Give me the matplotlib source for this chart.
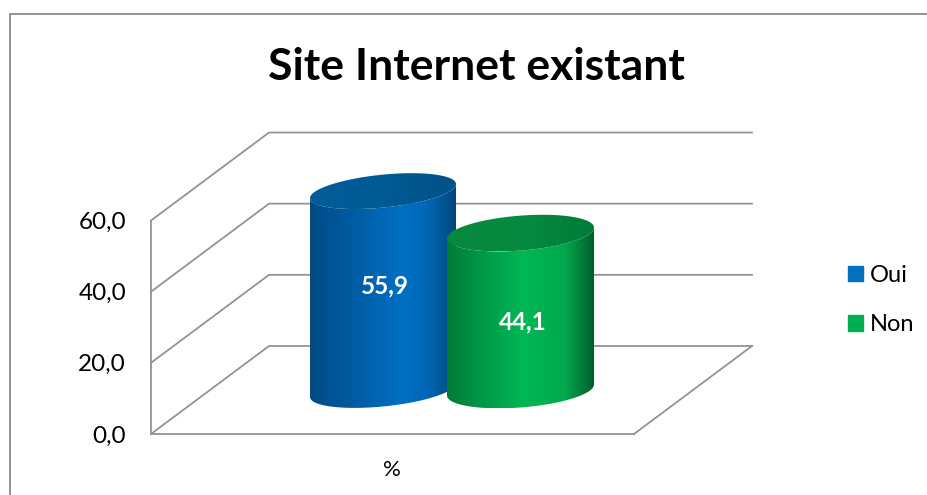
import numpy as np
import matplotlib
matplotlib.use("Agg")
import matplotlib.pyplot as plt
from matplotlib.colors import LinearSegmentedColormap
from matplotlib.patches import Patch, PathPatch
from matplotlib.path import Path

plt.rcParams["font.family"] = ["Lato", "DejaVu Sans"]

# data
series_names = ["Oui", "Non"]
series_values = [55.9, 44.1]
series_colors = ["#0070c0", "#00b050"]
y_ticks = [0, 20, 40, 60]
y_tick_labels = ["0,0", "20,0", "40,0", "60,0"]
category_labels = ["%"]
title = "Site Internet existant"

W, H = 928, 495
PX_PER_UNIT = 3.558   # pixels per percent on the value scale
ZERO_PX = 434         # pixel row of value 0 on the front wall
GRID = "#939393"

# layout of the fake 3D box, x in pixels, depth offset in pixels
WALL_X = 151
FLOOR_RIGHT = 634
DEPTH_X = 118
DEPTH_PX = 88

# cx, half width, half height of the ellipse, tilt (px), colour stops
CYLINDERS = [
    dict(cx=383, a=73, b=16.5, tilt=7, base_px=390, label_dx=2, label_dy=-5,
         side=["#004b85", "#00599e", "#0070c4", "#0068b5", "#00477c"],
         stops=[0, 0.25, 0.64, 0.8, 1],
         top=["#005c98", "#005a94", "#005286"]),
    dict(cx=520.5, a=73.5, b=17.5, tilt=5.5, base_px=390, label_dx=2, label_dy=10,
         side=["#007a38", "#009a48", "#00b854", "#00a94c", "#005f2c"],
         stops=[0, 0.25, 0.53, 0.8, 1],
         top=["#08883f", "#068a40", "#007c39"]),
]


def px_to_val(px):
    return (ZERO_PX - px) / PX_PER_UNIT


fig = plt.figure(figsize=(W / 100, H / 100), dpi=100)
ax = fig.add_axes([0, 0, 1, 1])
depth = DEPTH_PX / PX_PER_UNIT

# chart frame
frame_x = [10.5, 10.5, W]
frame_y = [px_to_val(H), px_to_val(13.5), px_to_val(13.5)]
ax.plot(frame_x, frame_y, color="#8a8a8a", lw=1.3, solid_capstyle="butt", zorder=1)

# back wall, side wall and floor
for v in y_ticks:
    ax.plot([WALL_X, WALL_X + DEPTH_X, 752], [v, v + depth, v + depth], color=GRID, lw=1.3, zorder=1)
ax.plot([FLOOR_RIGHT, FLOOR_RIGHT + DEPTH_X], [0, depth], color=GRID, lw=1.3, zorder=1)


def shaded(path, colors, stops, x0, x1, zorder):
    cmap = LinearSegmentedColormap.from_list("c", list(zip(stops, colors)))
    ylo, yhi = path.vertices[:, 1].min(), path.vertices[:, 1].max()
    im = ax.imshow(np.linspace(0, 1, 256)[None, :], cmap=cmap, aspect="auto",
                   extent=[x0, x1, ylo, yhi], zorder=zorder, interpolation="bilinear")
    im.set_clip_path(PathPatch(path, transform=ax.transData))


for i, (value, cyl) in enumerate(zip(series_values, CYLINDERS)):
    cx, a, b, tilt = cyl["cx"], cyl["a"], cyl["b"], cyl["tilt"]
    base = px_to_val(cyl["base_px"])
    t = np.linspace(0, 2 * np.pi, 200)
    ex = cx + a * np.cos(t)
    ey = (tilt * np.cos(t) + b * np.sin(t)) / PX_PER_UNIT

    # body: lower half of the base ellipse, then up to the top ellipse
    lower = t[t >= np.pi]
    lx = cx + a * np.cos(lower)
    ly = (tilt * np.cos(lower) + b * np.sin(lower)) / PX_PER_UNIT
    body_x = np.r_[lx, lx[::-1]]
    body_y = np.r_[base + ly, base + value + ly[::-1]]
    z = 3 + i
    shaded(Path(np.c_[body_x, body_y]), cyl["side"], cyl["stops"], cx - a, cx + a, z)
    shaded(Path(np.c_[ex, base + value + ey]), cyl["top"], [0, 0.5, 1], cx - a, cx + a, z + 0.5)

    ax.text(cx + cyl["label_dx"], base + value / 2 - cyl["label_dy"] / PX_PER_UNIT,
            f"{value:.1f}".replace(".", ","), color="white",
            fontsize=17.5, fontweight="bold", ha="center", va="center", zorder=6)

ax.set_xlim(0, W)
ax.set_ylim(px_to_val(H), px_to_val(0))
ax.patch.set_visible(False)

# the axes themselves carry the ticks, moved onto the side wall and floor
for side in ("top", "right"):
    ax.spines[side].set_visible(False)
ax.spines["left"].set_position(("data", WALL_X))
ax.spines["left"].set_bounds(y_ticks[0], y_ticks[-1])
ax.spines["bottom"].set_position(("data", 0))
ax.spines["bottom"].set_bounds(WALL_X, FLOOR_RIGHT)
for side in ("left", "bottom"):
    ax.spines[side].set_color(GRID)
    ax.spines[side].set_linewidth(1.3)
ax.set_yticks(y_ticks, y_tick_labels)
ax.set_xticks([392], category_labels)
ax.tick_params(axis="y", length=0, pad=18, labelsize=17.5, colors="black")
ax.tick_params(axis="x", length=0, pad=19, labelsize=16, colors="black")

ax.text(476, px_to_val(67), title, fontsize=32, fontweight="bold", ha="center", va="center")

handles = [Patch(color=c, label=n) for c, n in zip(series_colors, series_names)]
ax.legend(handles=handles, loc="center left", bbox_to_anchor=(848 / W, 1 - 300 / H),
          frameon=False, fontsize=17, handlelength=0.64, handleheight=0.64,
          handletextpad=0.3, labelspacing=1.2, borderpad=0, borderaxespad=0)

fig.savefig("out.png", dpi=100)
